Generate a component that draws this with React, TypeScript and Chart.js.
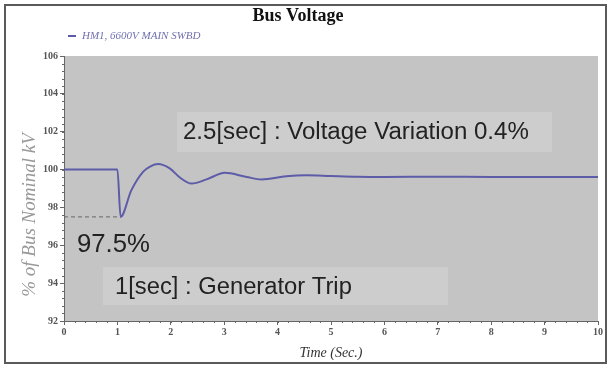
import React, { useEffect, useRef } from "react";
import { Chart, registerables } from "chart.js";

Chart.register(...registerables);

// Bus voltage response after the generator trip (% of nominal kV vs. seconds)
const timeSec = [0, 0.5, 1.0, 1.06, 1.26, 1.48, 1.62, 1.76, 1.98, 2.17, 2.39, 2.67, 3.01, 3.42, 3.7, 4.16, 4.54, 5.0, 5.5, 6.0, 7.0, 8.0, 9.0, 10.0];
const busVoltage = [100.0, 100.0, 100.0, 97.5, 98.9, 99.88, 100.17, 100.29, 100.06, 99.58, 99.26, 99.48, 99.83, 99.61, 99.48, 99.65, 99.7, 99.66, 99.62, 99.61, 99.62, 99.61, 99.61, 99.61];

// Reference line at the voltage minimum
const dipTime = [0, 1.06];
const dipLevel = [97.5, 97.5];

const chartTitle = "Bus Voltage";
const seriesLabel = "HM1, 6600V MAIN SWBD";
const xAxisTitle = "Time (Sec.)";
const yAxisTitle = "% of Bus Nominal kV";
const dipLabel = "97.5%";
const tripNote = "1[sec] : Generator Trip";
const variationNote = "2.5[sec] : Voltage Variation 0.4%";

const SERIF = '"Liberation Serif", "Times New Roman", serif';
const SANS = '"Liberation Sans", Arial, sans-serif';
const LINE_COLOR = "#5c5ca8";

// Draw text so that it spans a given width
function fitText(ctx: CanvasRenderingContext2D, text: string, x: number, y: number, width: number, size: number) {
  ctx.font = `${size}px ${SANS}`;
  const w = ctx.measureText(text).width;
  const s = (size * width) / w;
  ctx.font = `${s}px ${SANS}`;
  ctx.textAlign = "left";
  ctx.textBaseline = "middle";
  ctx.fillText(text, x, y);
}

const decorations = {
  id: "decorations",
  beforeDraw(chart: any) {
    const { ctx, chartArea: a } = chart;
    ctx.save();
    ctx.fillStyle = "#ffffff";
    ctx.fillRect(0, 0, chart.width, chart.height);
    ctx.fillStyle = "#c4c4c4";
    ctx.fillRect(a.left, a.top, a.right - a.left, a.bottom - a.top);
    // note boxes
    ctx.fillStyle = "#cdcdcd";
    ctx.fillRect(177, 112, 375, 40);
    ctx.fillRect(103, 267, 345, 38);
    ctx.restore();
  },
  afterDraw(chart: any) {
    const { ctx, chartArea: a, scales } = chart;
    ctx.save();

    // minor ticks
    ctx.strokeStyle = "#666";
    ctx.lineWidth = 1;
    ctx.beginPath();
    for (let i = 0; i <= 50; i++) {
      const px = Math.round(scales.x.getPixelForValue(i * 0.2)) + 0.5;
      ctx.moveTo(px, a.bottom);
      ctx.lineTo(px, a.bottom + 2);
    }
    for (let i = 0; i <= 35; i++) {
      const py = Math.round(scales.y.getPixelForValue(92 + i * 0.4)) + 0.5;
      ctx.moveTo(a.left, py);
      ctx.lineTo(a.left - 2, py);
    }
    ctx.stroke();

    // outer frame
    ctx.strokeStyle = "#5a5a5a";
    ctx.lineWidth = 2;
    ctx.strokeRect(5, 5, 601, 358);

    // title
    ctx.fillStyle = "#111";
    ctx.font = `bold 18px ${SERIF}`;
    ctx.textAlign = "center";
    ctx.textBaseline = "middle";
    ctx.fillText(chartTitle, 298, 16);

    // legend
    ctx.strokeStyle = LINE_COLOR;
    ctx.lineWidth = 2;
    ctx.beginPath();
    ctx.moveTo(68, 36);
    ctx.lineTo(76, 36);
    ctx.stroke();
    ctx.fillStyle = "#7070b0";
    ctx.font = `italic 11px ${SERIF}`;
    ctx.textAlign = "left";
    ctx.fillText(chart.data.datasets[0].label, 82, 36);

    // axis titles
    ctx.fillStyle = "#333";
    ctx.font = `italic 14px ${SERIF}`;
    ctx.textAlign = "center";
    ctx.fillText(xAxisTitle, 331, 353);

    ctx.save();
    ctx.translate(30, 215);
    ctx.rotate(-Math.PI / 2);
    ctx.fillStyle = "#999";
    ctx.font = `italic 19px ${SERIF}`;
    ctx.fillText(yAxisTitle, 0, 0);
    ctx.restore();

    // notes
    ctx.fillStyle = "#222";
    fitText(ctx, variationNote, 183, 132, 346, 24);
    fitText(ctx, tripNote, 115, 287, 237, 24);
    fitText(ctx, dipLabel, 77, 245, 73, 26);

    ctx.restore();
  },
};

export default function App() {
  const ref = useRef<HTMLCanvasElement | null>(null);

  useEffect(() => {
    document.body.style.margin = "0";
    const canvas = ref.current;
    if (!canvas) return;
    const tickFont = { family: SERIF, size: 10, weight: "bold" as const };
    const chart = new Chart(canvas, {
      type: "line",
      data: {
        datasets: [
          {
            label: seriesLabel,
            data: timeSec.map((t, i) => ({ x: t, y: busVoltage[i] })),
            borderColor: LINE_COLOR,
            borderWidth: 2,
            pointRadius: 0,
            cubicInterpolationMode: "monotone",
          },
          {
            label: "dip",
            data: dipTime.map((t, i) => ({ x: t, y: dipLevel[i] })),
            borderColor: "#666",
            borderWidth: 1,
            borderDash: [4, 3],
            pointRadius: 0,
          },
        ],
      },
      options: {
        animation: false,
        responsive: false,
        devicePixelRatio: 1,
        layout: { padding: { top: 56, right: 13, left: 0, bottom: 0 } },
        plugins: { legend: { display: false }, title: { display: false }, tooltip: { enabled: false } },
        scales: {
          x: {
            type: "linear",
            min: 0,
            max: 10,
            ticks: { stepSize: 1, font: tickFont, color: "#555", padding: 1, maxRotation: 0 },
            grid: { drawOnChartArea: false, tickLength: 4, color: "#666" },
            border: { color: "#666" },
            afterFit: (s: any) => {
              s.height = 54;
            },
          },
          y: {
            type: "linear",
            min: 92,
            max: 106,
            ticks: { stepSize: 2, font: tickFont, color: "#555", padding: 2 },
            grid: { drawOnChartArea: false, tickLength: 4, color: "#666" },
            border: { color: "#666" },
            afterFit: (s: any) => {
              s.width = 64;
            },
          },
        },
      },
      plugins: [decorations],
    });
    return () => chart.destroy();
  }, []);

  return (
    <div style={{ position: "absolute", left: 0, top: 0, width: 611, height: 375 }}>
      <canvas ref={ref} width={611} height={375} style={{ width: 611, height: 375, display: "block" }} />
    </div>
  );
}
